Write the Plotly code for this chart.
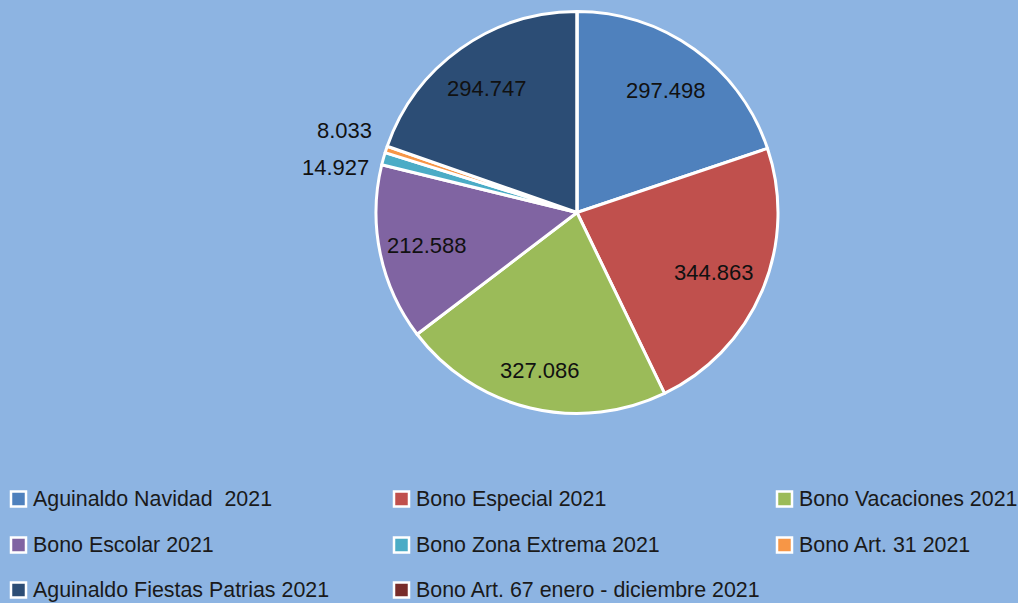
import math
import plotly.graph_objects as go

# Bonus payments 2021
labels = [
    "Aguinaldo Navidad  2021",
    "Bono Especial 2021",
    "Bono Vacaciones 2021",
    "Bono Escolar 2021",
    "Bono Zona Extrema 2021",
    "Bono Art. 31 2021",
    "Aguinaldo Fiestas Patrias 2021",
    "Bono Art. 67 enero - diciembre 2021",
]
values = [297498, 344863, 327086, 212588, 14927, 8033, 294747, 0]
colors = ["#4F81BD", "#C0504D", "#9BBB59", "#8064A2",
          "#4BACC6", "#F79646", "#2C4D75", "#772C2A"]

# label placement per slice: "in" = inside the slice, "out" = left of the rim
label_mode = ["in", "in", "in", "in", "out", "out", "in", "none"]
label_rfrac = [0.76, 0.74, 0.80, 0.76, 1.0, 1.0, 0.77, 0.0]
label_yshift = [0, 0, 0, 0, -11, 16, 0, 0]

W, H = 1018, 603
BG = "#8DB4E2"
FONT = "Liberation Sans"

# pie geometry in pixels
cx, cy, r = 577.0, 212.5, 201.0
dom_x = [(cx - r) / W, (cx + r) / W]
dom_y = [1 - (cy + r) / H, 1 - (cy - r) / H]


def fmt(v):
    return f"{v:,}".replace(",", ".")


fig = go.Figure(go.Pie(
    labels=labels,
    values=values,
    sort=False,
    direction="clockwise",
    rotation=0,
    marker=dict(colors=colors, line=dict(color="white", width=3)),
    textinfo="none",
    hoverinfo="label+value+percent",
    showlegend=False,
    domain=dict(x=dom_x, y=dom_y),
))

annotations = []
shapes = []

# value labels placed from each slice's middle angle
total = sum(values)
cum = 0.0
for v, mode, rf, ys in zip(values, label_mode, label_rfrac, label_yshift):
    start = cum
    cum += v
    if mode == "none" or v == 0:
        continue
    mid = (start + v / 2) / total * 2 * math.pi  # clockwise from 12 o'clock
    if mode == "in":
        rr = rf * r
        px = cx + rr * math.sin(mid)
        py = cy - rr * math.cos(mid)
        annotations.append(dict(
            x=px / W, y=1 - py / H, xref="paper", yref="paper",
            text=fmt(v), showarrow=False, xanchor="center", yanchor="middle",
            yshift=-2,
            font=dict(family=FONT, size=22, color="#111111"),
        ))
    else:
        rr = rf * r + 9
        px = cx + rr * math.sin(mid)
        py = cy - rr * math.cos(mid)
        annotations.append(dict(
            x=px / W, y=1 - py / H, xref="paper", yref="paper",
            text=fmt(v), showarrow=False, xanchor="right", yanchor="middle",
            yshift=ys, xshift=-4,
            font=dict(family=FONT, size=22, color="#111111"),
        ))

# legend: three columns, three rows
col_x = [10, 393, 776]
row_y = [499, 545, 590]
sq = 15
for i, (lab, col) in enumerate(zip(labels, colors)):
    c = i % 3
    rw = i // 3
    x0 = col_x[c] + 1
    yc = row_y[rw]
    shapes.append(dict(
        type="rect", xref="paper", yref="paper",
        x0=x0 / W, x1=(x0 + sq) / W,
        y0=1 - (yc + sq / 2) / H, y1=1 - (yc - sq / 2) / H,
        fillcolor=col, line=dict(color="white", width=2.5),
    ))
    annotations.append(dict(
        x=(col_x[c] + 21) / W, y=1 - yc / H, xref="paper", yref="paper",
        text=lab, showarrow=False, xanchor="left", yanchor="middle",
        font=dict(family=FONT, size=21.4, color="#1A1A1A"),
    ))

fig.update_layout(
    width=W, height=H,
    margin=dict(l=0, r=0, t=0, b=0),
    paper_bgcolor=BG, plot_bgcolor=BG,
    annotations=annotations,
    shapes=shapes,
    showlegend=False,
)

fig.write_html("out.html")
